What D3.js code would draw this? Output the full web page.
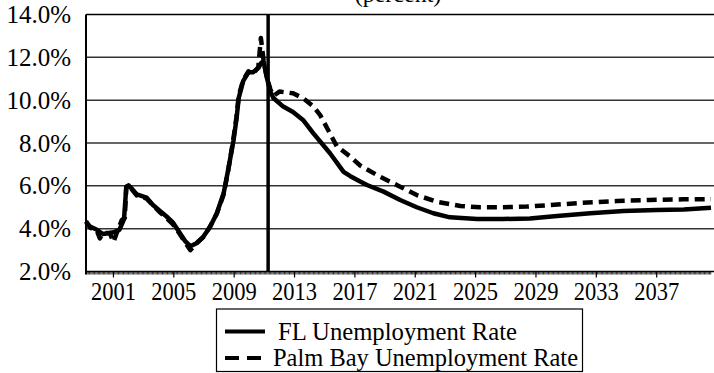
<!DOCTYPE html>
<html>
<head>
<meta charset="utf-8">
<script src="https://cdn.jsdelivr.net/npm/d3@7"></script>
<style>
  body { margin: 0; background: #fff; }
  text { font-family: "Liberation Serif", "Times New Roman", serif; }
</style>
</head>
<body>
<div id="chart"></div>
<script>
// FL unemployment rate (%) at decimal-year points
const flYears = [1999.18, 1999.45, 1999.9, 2000.3, 2000.75, 2001.1, 2001.4, 2001.7, 2001.85, 2002.0,
  2002.2, 2002.55, 2003.2, 2003.6, 2004.1, 2004.5, 2004.95, 2005.3, 2005.75, 2006.1, 2006.5,
  2006.95, 2007.4, 2007.85, 2008.3, 2008.6, 2008.95, 2009.15, 2009.3, 2009.6, 2009.95, 2010.25,
  2010.6, 2010.8, 2010.95, 2011.15, 2011.4, 2011.6, 2012.25, 2012.9, 2013.6, 2014.25, 2015.35,
  2016.25, 2016.7, 2017.35, 2017.8, 2018.9, 2020.0, 2021.1, 2022.2, 2023.3, 2025.1, 2026.8,
  2028.6, 2030.4, 2032.6, 2034.8, 2037.0, 2038.8, 2040.6];
const flRates = [4.3, 4.1, 3.95, 3.75, 3.8, 3.85, 3.95, 4.45, 5.95, 6.02,
  5.88, 5.6, 5.45, 5.12, 4.82, 4.58, 4.28, 3.9, 3.42, 3.18, 3.32,
  3.62, 4.08, 4.72, 5.65, 6.74, 8.1, 9.1, 10.1, 10.9, 11.3, 11.3,
  11.5, 11.75, 11.8, 11.1, 10.4, 10.1, 9.7, 9.45, 9.05, 8.45, 7.52,
  6.65, 6.45, 6.2, 6.04, 5.73, 5.34, 5.0, 4.72, 4.53, 4.45, 4.45,
  4.48, 4.59, 4.72, 4.82, 4.87, 4.9, 4.98];

// Palm Bay unemployment rate (%)
const pbYears = [1999.18, 1999.45, 1999.9, 2000.1, 2000.3, 2000.75, 2001.0, 2001.3, 2001.55, 2001.75,
  2001.85, 2002.0, 2002.2, 2002.55, 2003.2, 2003.6, 2004.1, 2004.5, 2004.95, 2005.3, 2005.75,
  2006.1, 2006.5, 2006.95, 2007.4, 2007.85, 2008.3, 2008.6, 2008.95, 2009.15, 2009.3, 2009.6,
  2009.95, 2010.25, 2010.6, 2010.77, 2010.95, 2011.15, 2011.4, 2011.6, 2012.0, 2012.9, 2013.6,
  2014.25, 2014.7, 2015.8, 2016.7, 2017.35, 2018.65, 2020.0, 2021.1, 2022.4, 2024.0, 2025.3,
  2026.8, 2028.4, 2029.9, 2032.1, 2034.35, 2036.55, 2038.75, 2040.6];
const pbRates = [4.35, 4.05, 3.9, 3.55, 3.8, 3.8, 3.38, 3.95, 4.4, 4.5,
  5.95, 6.05, 5.85, 5.55, 5.4, 5.1, 4.75, 4.5, 4.2, 3.85, 3.35,
  3.0, 3.3, 3.6, 4.1, 4.7, 5.6, 6.7, 8.2, 9.2, 10.2, 10.95,
  11.35, 11.2, 11.55, 12.9, 11.85, 11.1, 10.5, 10.2, 10.4, 10.32, 10.08,
  9.7, 9.3, 7.85, 7.36, 6.95, 6.43, 5.96, 5.57, 5.26, 5.06, 5.0,
  5.0, 5.03, 5.1, 5.21, 5.29, 5.34, 5.37, 5.38];

const forecastStart = 2011.25;
const yTicks = [2, 4, 6, 8, 10, 12, 14];
const xLabelYears = [2001, 2005, 2009, 2013, 2017, 2021, 2025, 2029, 2033, 2037];
const seriesNames = ["FL Unemployment Rate", "Palm Bay Unemployment Rate"];

const W = 714, H = 373;
const plot = { left: 86, right: 711, top: 14.5, bottom: 271.5 };
const serif = '"Liberation Serif", "Times New Roman", serif';

const svg = d3.select("#chart").append("svg")
  .attr("width", W)
  .attr("height", H)
  .style("display", "block");

svg.append("rect").attr("width", W).attr("height", H).attr("fill", "#fff");

const x = d3.scaleLinear()
  .domain([1999.18, 2040.6])
  .range([plot.left, plot.right]);

const y = d3.scaleLinear()
  .domain([2, 14])
  .range([plot.bottom, plot.top]);

// title (top of it is cropped off, as in the source)
svg.append("text")
  .attr("x", 398)
  .attr("y", 2)
  .attr("text-anchor", "middle")
  .attr("font-family", serif)
  .style("font-size", "24px")
  .text("(percent)");

// horizontal gridlines
svg.append("g")
  .selectAll("line")
  .data(yTicks.filter(d => d > 2))
  .join("line")
  .attr("x1", plot.left)
  .attr("x2", W)
  .attr("y1", d => y(d))
  .attr("y2", d => y(d))
  .attr("stroke", d => d === 14 ? "#000" : "#333")
  .attr("stroke-width", 1.5);

// y labels
svg.append("g")
  .selectAll("text")
  .data(yTicks)
  .join("text")
  .attr("x", 71)
  .attr("y", d => y(d) + 8.5)
  .attr("text-anchor", "end")
  .attr("font-family", serif)
  .style("font-size", "25px")
  .text(d => d.toFixed(1) + "%");

// x axis: monthly minor ticks, major every 4 years
const months = d3.range(Math.ceil(1999.18 * 12), Math.floor(2040.6 * 12) + 1).map(m => m / 12);
const xAxis = svg.append("g");
xAxis.selectAll("line.minor")
  .data(months)
  .join("line")
  .attr("class", "minor")
  .attr("x1", d => x(d)).attr("x2", d => x(d))
  .attr("y1", plot.bottom).attr("y2", plot.bottom + 3)
  .attr("stroke", "#000").attr("stroke-width", 0.8);
xAxis.selectAll("line.major")
  .data(xLabelYears)
  .join("line")
  .attr("class", "major")
  .attr("x1", d => x(d)).attr("x2", d => x(d))
  .attr("y1", plot.bottom).attr("y2", plot.bottom + 6)
  .attr("stroke", "#000").attr("stroke-width", 1.2);
xAxis.append("line")
  .attr("x1", plot.left).attr("x2", W)
  .attr("y1", plot.bottom).attr("y2", plot.bottom)
  .attr("stroke", "#000").attr("stroke-width", 1.5);
xAxis.selectAll("text")
  .data(xLabelYears)
  .join("text")
  .attr("x", d => x(d))
  .attr("y", 300)
  .attr("text-anchor", "middle")
  .attr("textLength", 45)
  .attr("lengthAdjust", "spacingAndGlyphs")
  .attr("font-family", serif)
  .style("font-size", "25px")
  .text(d => d);

// left axis line
svg.append("line")
  .attr("x1", plot.left).attr("x2", plot.left)
  .attr("y1", plot.top).attr("y2", plot.bottom + 3)
  .attr("stroke", "#000").attr("stroke-width", 2);

// series
const line = d3.line()
  .x(d => x(d[0]))
  .y(d => y(d[1]));

svg.append("path")
  .datum(d3.zip(pbYears, pbRates))
  .attr("d", line)
  .attr("fill", "none")
  .attr("stroke", "#000")
  .attr("stroke-width", 4.5)
  .attr("stroke-dasharray", "10,6")
  .attr("stroke-linejoin", "round");

svg.append("path")
  .datum(d3.zip(flYears, flRates))
  .attr("d", line)
  .attr("fill", "none")
  .attr("stroke", "#000")
  .attr("stroke-width", 4.5)
  .attr("stroke-linejoin", "round");

// forecast divider
svg.append("line")
  .attr("x1", x(forecastStart)).attr("x2", x(forecastStart))
  .attr("y1", plot.top).attr("y2", plot.bottom)
  .attr("stroke", "#000")
  .attr("stroke-width", 3.5);

// legend
const legend = svg.append("g");
legend.append("rect")
  .attr("x", 216.5).attr("y", 309)
  .attr("width", 366).attr("height", 62.5)
  .attr("fill", "#fff")
  .attr("stroke", "#000")
  .attr("stroke-width", 1.2);

const legendRows = [
  { name: seriesNames[0], y: 331.5, dash: null, tx: 278, tl: 239 },
  { name: seriesNames[1], y: 358, dash: "14,8", tx: 273, tl: 305 }
];
legendRows.forEach(r => {
  legend.append("line")
    .attr("x1", 225).attr("x2", 265)
    .attr("y1", r.y).attr("y2", r.y)
    .attr("stroke", "#000")
    .attr("stroke-width", 4)
    .attr("stroke-dasharray", r.dash);
  legend.append("text")
    .attr("x", r.tx)
    .attr("y", r.y + 8)
    .attr("textLength", r.tl)
    .attr("lengthAdjust", "spacingAndGlyphs")
    .attr("font-family", serif)
    .style("font-size", "25px")
    .text(r.name);
});
</script>
</body>
</html>
